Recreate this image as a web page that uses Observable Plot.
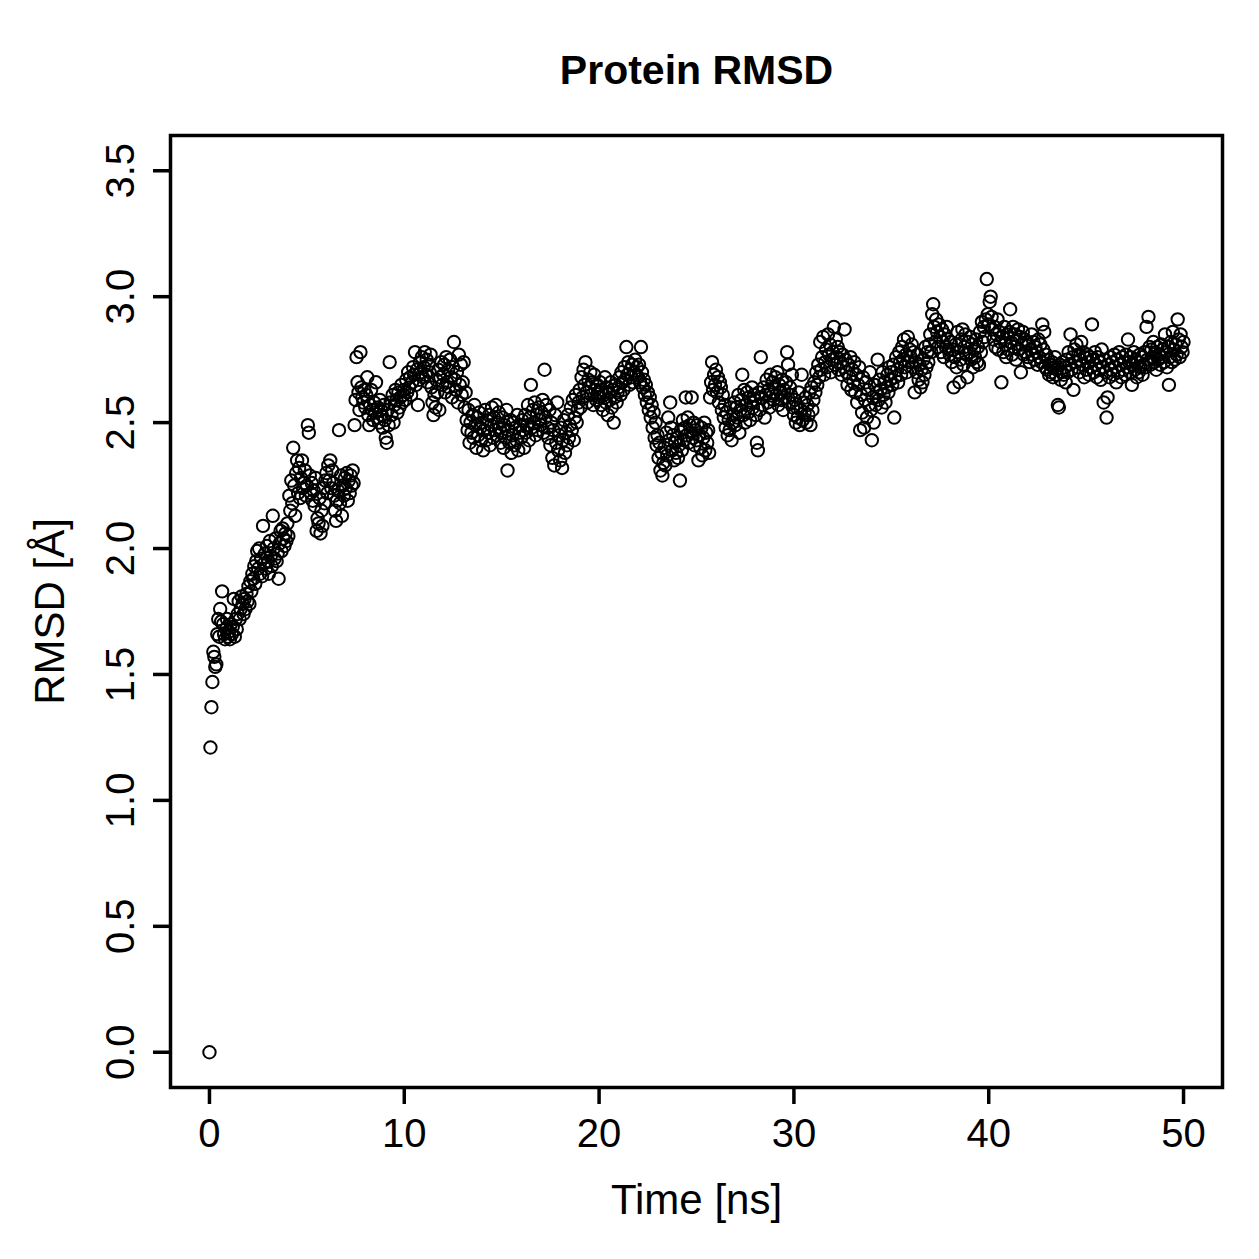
<!DOCTYPE html>
<html>
<head>
<meta charset="utf-8">
<script src="https://cdn.jsdelivr.net/npm/d3@7"></script>
<script src="https://cdn.jsdelivr.net/npm/@observablehq/plot@0.6"></script>
<style>
  html, body { margin: 0; padding: 0; background: #fff; }
  #chart svg { display: block; }
</style>
</head>
<body>
<div id="chart"></div>
<script>
// Sampling: one frame every 0.05 ns, from 0 to 50 ns (1001 frames)
const timeStep = 0.05;
const chartTitle = "Protein RMSD";
const xLabel = "Time [ns]";
const yLabel = "RMSD [Å]";
const xTicks = [0, 10, 20, 30, 40, 50];
const yTicks = [0, 0.5, 1, 1.5, 2, 2.5, 3, 3.5];

// RMSD values (Å), 20 frames per ns row
const rmsd = [
0.00,1.21,1.37,1.47,1.59,1.57,1.53,1.54,1.66,1.72,1.65,1.76,1.71,1.83,1.70,1.66,1.64,1.68,1.72,1.65,
1.67,1.64,1.70,1.66,1.69,1.80,1.65,1.72,1.68,1.74,1.79,1.72,1.76,1.81,1.78,1.74,1.80,1.76,1.82,1.79,
1.85,1.78,1.87,1.83,1.90,1.88,1.93,1.86,1.95,1.99,1.92,2.00,1.90,1.96,1.89,2.09,1.94,1.98,1.92,2.01,
1.95,1.90,2.03,1.97,1.93,2.13,2.00,1.96,2.04,1.95,1.98,1.88,2.02,2.07,1.99,2.08,2.04,2.01,2.06,2.03,
2.10,2.05,2.21,2.15,2.27,2.18,2.40,2.25,2.13,2.30,2.35,2.22,2.32,2.20,2.28,2.35,2.24,2.26,2.31,2.21,
2.25,2.49,2.46,2.29,2.22,2.26,2.19,2.23,2.17,2.28,2.07,2.12,2.10,2.20,2.06,2.15,2.09,2.24,2.18,2.27,
2.30,2.22,2.33,2.27,2.35,2.24,2.31,2.26,2.21,2.15,2.11,2.19,2.23,2.47,2.18,2.29,2.13,2.25,2.21,2.28,
2.24,2.30,2.19,2.27,2.22,2.29,2.25,2.31,2.26,2.49,2.59,2.76,2.66,2.62,2.55,2.78,2.64,2.60,2.58,2.63,
2.56,2.61,2.68,2.53,2.49,2.57,2.63,2.55,2.51,2.58,2.54,2.66,2.52,2.56,2.50,2.59,2.55,2.53,2.48,2.57,
2.51,2.44,2.42,2.55,2.49,2.74,2.58,2.53,2.61,2.50,2.57,2.63,2.59,2.54,2.62,2.56,2.60,2.65,2.58,2.61,
2.63,2.59,2.67,2.62,2.70,2.64,2.68,2.61,2.66,2.72,2.69,2.78,2.65,2.71,2.57,2.67,2.74,2.70,2.76,2.68,
2.72,2.78,2.69,2.75,2.66,2.73,2.70,2.77,2.64,2.58,2.53,2.61,2.56,2.67,2.62,2.71,2.55,2.68,2.74,2.65,
2.69,2.73,2.62,2.76,2.66,2.71,2.64,2.75,2.68,2.60,2.72,2.82,2.67,2.63,2.70,2.58,2.77,2.65,2.73,2.61,
2.66,2.74,2.56,2.62,2.51,2.47,2.55,2.42,2.50,2.46,2.53,2.44,2.57,2.49,2.40,2.52,2.45,2.54,2.48,2.43,
2.50,2.39,2.47,2.55,2.43,2.51,2.46,2.53,2.41,2.49,2.56,2.44,2.52,2.47,2.57,2.45,2.50,2.54,2.48,2.42,
2.46,2.52,2.40,2.49,2.44,2.55,2.31,2.47,2.42,2.51,2.38,2.45,2.50,2.41,2.48,2.43,2.53,2.39,2.46,2.49,
2.44,2.51,2.47,2.40,2.53,2.46,2.49,2.57,2.43,2.52,2.65,2.48,2.55,2.50,2.58,2.45,2.53,2.47,2.56,2.51,
2.49,2.54,2.59,2.46,2.71,2.52,2.57,2.48,2.44,2.55,2.41,2.50,2.36,2.47,2.33,2.53,2.42,2.58,2.39,2.45,
2.35,2.48,2.32,2.43,2.51,2.38,2.46,2.41,2.53,2.44,2.49,2.56,2.47,2.59,2.43,2.52,2.61,2.50,2.55,2.58,
2.63,2.56,2.68,2.60,2.71,2.65,2.74,2.62,2.58,2.67,2.64,2.70,2.61,2.66,2.57,2.69,2.63,2.59,2.65,2.62,
2.60,2.66,2.57,2.63,2.55,2.61,2.68,2.58,2.64,2.53,2.62,2.59,2.66,2.56,2.63,2.50,2.60,2.65,2.58,2.62,
2.64,2.68,2.61,2.70,2.66,2.63,2.72,2.67,2.80,2.69,2.74,2.65,2.71,2.68,2.73,2.66,2.70,2.75,2.69,2.72,
2.68,2.73,2.66,2.80,2.70,2.64,2.67,2.61,2.65,2.58,2.62,2.55,2.60,2.52,2.57,2.48,2.54,2.44,2.50,2.41,
2.45,2.36,2.42,2.31,2.38,2.29,2.34,2.40,2.33,2.46,2.37,2.52,2.43,2.58,2.48,2.39,2.45,2.35,2.42,2.38,
2.44,2.36,2.41,2.27,2.47,2.39,2.51,2.43,2.48,2.60,2.45,2.52,2.42,2.49,2.46,2.60,2.44,2.50,2.41,2.47,
2.43,2.49,2.35,2.45,2.40,2.48,2.37,2.44,2.50,2.39,2.46,2.42,2.47,2.38,2.60,2.66,2.74,2.63,2.69,2.65,
2.71,2.62,2.68,2.58,2.66,2.64,2.55,2.61,2.52,2.57,2.48,2.54,2.45,2.51,2.47,2.56,2.43,2.50,2.53,2.58,
2.49,2.56,2.52,2.61,2.46,2.55,2.59,2.69,2.53,2.63,2.50,2.57,2.62,2.54,2.60,2.51,2.58,2.64,2.56,2.61,
2.59,2.53,2.42,2.39,2.62,2.55,2.76,2.60,2.57,2.64,2.52,2.61,2.67,2.58,2.63,2.56,2.69,2.62,2.66,2.59,
2.64,2.68,2.61,2.70,2.57,2.65,2.62,2.59,2.67,2.55,2.63,2.60,2.66,2.78,2.73,2.58,2.64,2.61,2.69,2.56,
2.53,2.59,2.50,2.56,2.52,2.62,2.49,2.55,2.69,2.51,2.58,2.54,2.60,2.50,2.57,2.53,2.62,2.49,2.64,2.55,
2.59,2.66,2.62,2.70,2.65,2.73,2.68,2.82,2.71,2.76,2.84,2.69,2.74,2.79,2.72,2.85,2.77,2.81,2.70,2.75,
2.78,2.88,2.73,2.83,2.76,2.80,2.71,2.78,2.74,2.69,2.77,2.72,2.87,2.75,2.70,2.65,2.73,2.68,2.76,2.63,
2.71,2.66,2.74,2.62,2.69,2.58,2.65,2.72,2.47,2.61,2.54,2.68,2.48,2.59,2.66,2.52,2.63,2.57,2.70,2.55,
2.43,2.60,2.50,2.65,2.57,2.62,2.75,2.59,2.67,2.63,2.56,2.70,2.61,2.66,2.58,2.64,2.69,2.62,2.72,2.67,
2.70,2.65,2.73,2.52,2.68,2.76,2.71,2.66,2.78,2.74,2.69,2.80,2.75,2.83,2.72,2.77,2.70,2.84,2.74,2.79,
2.76,2.81,2.72,2.78,2.62,2.74,2.70,2.77,2.67,2.73,2.64,2.71,2.66,2.75,2.69,2.80,2.72,2.78,2.74,2.81,
2.85,2.78,2.93,2.97,2.88,2.82,2.91,2.86,2.80,2.89,2.84,2.78,2.87,2.82,2.76,2.85,2.80,2.88,2.83,2.79,
2.77,2.82,2.74,2.79,2.64,2.76,2.81,2.72,2.86,2.78,2.66,2.75,2.83,2.87,2.73,2.80,2.85,2.77,2.68,2.82,
2.78,2.84,2.75,2.81,2.72,2.79,2.76,2.83,2.74,2.80,2.73,2.86,2.78,2.90,2.82,2.88,2.84,2.91,3.07,2.93,
2.89,2.98,3.00,2.92,2.87,2.83,2.88,2.80,2.85,2.91,2.79,2.86,2.82,2.66,2.84,2.78,2.88,2.81,2.76,2.85,
2.79,2.86,2.95,2.82,2.77,2.88,2.80,2.85,2.75,2.83,2.87,2.79,2.84,2.70,2.81,2.86,2.77,2.83,2.78,2.82,
2.76,2.81,2.74,2.79,2.85,2.77,2.82,2.75,2.80,2.78,2.73,2.83,2.76,2.81,2.74,2.89,2.79,2.86,2.72,2.77,
2.71,2.75,2.69,2.73,2.70,2.74,2.68,2.72,2.76,2.69,2.71,2.57,2.56,2.73,2.67,2.70,2.74,2.69,2.72,2.66,
2.75,2.70,2.78,2.73,2.85,2.71,2.76,2.63,2.79,2.74,2.81,2.72,2.77,2.70,2.75,2.82,2.73,2.78,2.68,2.76,
2.71,2.77,2.74,2.69,2.76,2.72,2.89,2.75,2.70,2.78,2.73,2.68,2.76,2.71,2.74,2.67,2.79,2.72,2.58,2.75,
2.70,2.52,2.60,2.73,2.68,2.76,2.71,2.74,2.69,2.77,2.72,2.66,2.75,2.70,2.78,2.73,2.68,2.76,2.71,2.74,
2.69,2.77,2.72,2.83,2.74,2.70,2.76,2.65,2.73,2.78,2.71,2.75,2.68,2.74,2.70,2.77,2.72,2.76,2.69,2.73,
2.78,2.72,2.88,2.75,2.92,2.80,2.73,2.79,2.76,2.82,2.74,2.78,2.71,2.80,2.75,2.77,2.73,2.81,2.76,2.79,
2.74,2.85,2.78,2.72,2.80,2.65,2.76,2.82,2.74,2.86,2.79,2.75,2.81,2.77,2.91,2.83,2.76,2.85,2.80,2.78,
2.82
];

const data = rmsd.map((v, i) => ({time: +(i * timeStep).toFixed(2), rmsd: v}));

const FONT = "'Liberation Sans', Arial, Helvetica, sans-serif";
const TICK_FS = 40;
const LABEL_FS = 42;
const TITLE_FS = 41;

const chart = Plot.plot({
  width: 1259,
  height: 1259,
  marginLeft: 170,
  marginRight: 37,
  marginTop: 135,
  marginBottom: 172,
  style: {fontFamily: FONT, background: "white", color: "black"},
  x: {domain: [-2, 52]},
  y: {domain: [-0.14, 3.64]},
  marks: [
    Plot.frame({stroke: "black", strokeWidth: 3.5}),
    Plot.dot(data, {x: "time", y: "rmsd", r: 6.2, stroke: "black", strokeWidth: 2, fill: "none"}),
    Plot.axisX({ticks: xTicks, tickSize: 17, tickPadding: 14, strokeWidth: 3.5, fontSize: TICK_FS,
      tickFormat: d3.format("d"), label: null, fill: "black"}),
    Plot.axisY({ticks: yTicks, tickSize: 17, tickPadding: 20, tickRotate: -90, strokeWidth: 3.5, fontSize: TICK_FS,
      tickFormat: d3.format(".1f"), label: null, fill: "black"}),
    Plot.text([xLabel], {frameAnchor: "bottom", dy: 126, lineAnchor: "bottom", textAnchor: "middle", fontSize: LABEL_FS, fill: "black"}),
    Plot.text([yLabel], {frameAnchor: "left", dx: -107, rotate: -90, lineAnchor: "bottom", textAnchor: "middle", fontSize: LABEL_FS, fill: "black"}),
    Plot.text([chartTitle], {frameAnchor: "top", dy: -52, lineAnchor: "bottom", textAnchor: "middle", fontSize: TITLE_FS, fontWeight: "bold", fill: "black"})
  ]
});
document.getElementById("chart").appendChild(chart);
</script>
</body>
</html>
